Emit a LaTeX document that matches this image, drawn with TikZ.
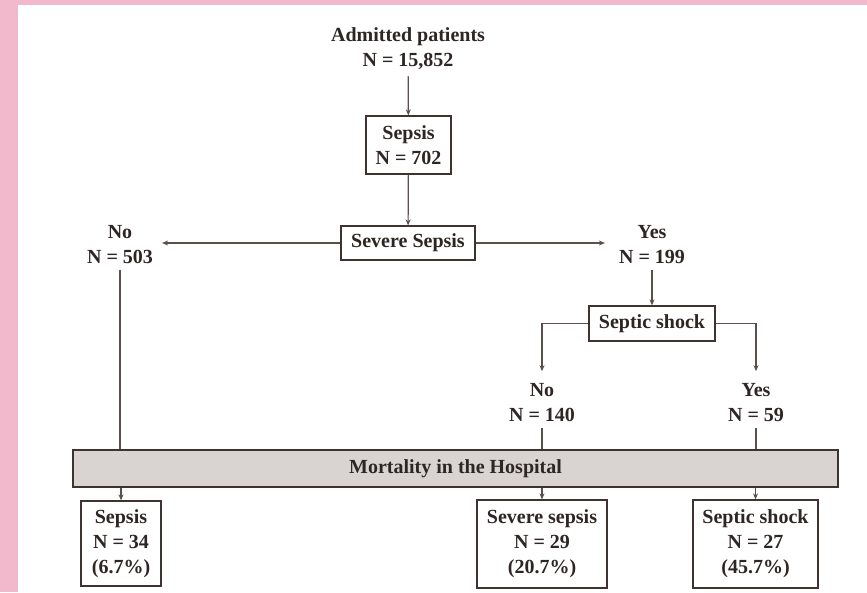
\documentclass[tikz,border=0pt]{standalone}
\usepackage{fontspec}
\setmainfont{Liberation Serif}
\usetikzlibrary{arrows.meta,calc}
\definecolor{pinkbg}{HTML}{F2B8CB}
\definecolor{ink}{HTML}{2E2624}
\definecolor{linec}{HTML}{5A4F4C}
\definecolor{boxc}{HTML}{3E3330}
\definecolor{grayfill}{HTML}{D9D4D1}
\tikzset{
  txt/.style={font=\bfseries\fontsize{20}{25}\selectfont, text=ink, align=center, inner sep=6pt},
  framebox/.style={txt, draw=boxc, line width=1.3pt, fill=white, inner sep=0pt},
  arr/.style={draw=linec, line width=1.2pt, -{Stealth[length=6pt,width=5pt]}},
  ln/.style={draw=linec, line width=1.2pt}
}
\begin{document}
\begin{tikzpicture}[x=1pt,y=-1pt]
\useasboundingbox (0,0) rectangle (867,592);
\fill[white] (0,0) rectangle (867,592);
\fill[pinkbg] (0,0) rectangle (867,5);
\fill[pinkbg] (0,0) rectangle (18,592);

\node[txt] (adm) at (408,49) {Admitted patients\\N = 15,852};
\node[framebox, minimum width=85pt, minimum height=58pt] (sep) at (408.5,145) {Sepsis\\N = 702};
\node[framebox, minimum width=134pt, minimum height=34pt] (sev) at (408,243) {Severe Sepsis};
\node[txt] (no1) at (120,244.5) {No\\N = 503};
\node[txt] (yes1) at (652,244.5) {Yes\\N = 199};
\node[framebox, minimum width=126pt, minimum height=35pt] (shock) at (652,323.5) {Septic shock};
\node[txt] (no2) at (542,402.5) {No\\N = 140};
\node[txt] (yes2) at (756,402.5) {Yes\\N = 59};
\node[framebox, fill=grayfill, minimum width=765pt, minimum height=37pt] (mort) at (455.5,468.5) {Mortality in the Hospital};
\node[framebox, minimum width=80pt, minimum height=85pt] (b1) at (121,543.5) {Sepsis\\N = 34\\(6.7\%)};
\node[framebox, minimum width=130pt, minimum height=88pt] (b2) at (542,544) {Severe sepsis\\N = 29\\(20.7\%)};
\node[framebox, minimum width=125pt, minimum height=88pt] (b3) at (755.5,544) {Septic shock\\N = 27\\(45.7\%)};

\draw[arr] (adm) -- (sep);
\draw[arr] (sep) -- (sev);
\draw[arr] (sev.west) -- ($(sev.west -| no1.east)+(3,0)$);
\draw[arr] (sev.east) -- ($(sev.east -| yes1.west)+(-8,0)$);
\draw[ln] (no1.south) -- (no1.south |- mort.north);
\draw[arr] (yes1.south) -- (shock.north);
\draw[arr, shorten >=6pt] (shock.west) -| (no2.north);
\draw[arr, shorten >=6pt] (shock.east) -| (yes2.north);
\draw[ln] (no2.south) -- (no2.south |- mort.north);
\draw[ln] (yes2.south) -- (yes2.south |- mort.north);
\draw[arr] (b1.north |- mort.south) -- (b1.north);
\draw[arr] (b2.north |- mort.south) -- (b2.north);
\draw[arr] (b3.north |- mort.south) -- (b3.north);
\end{tikzpicture}
\end{document}
